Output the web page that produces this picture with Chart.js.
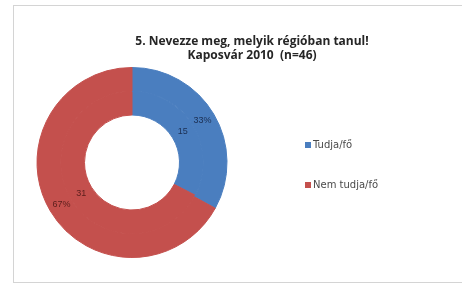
<!DOCTYPE html>
<html>
<head>
<meta charset="utf-8">
<script src="https://cdn.jsdelivr.net/npm/chart.js@4.4.1/dist/chart.umd.min.js"></script>
<style>
  html, body { margin: 0; padding: 0; background: #fff; overflow: hidden; }
  body { width: 462px; height: 284px; position: relative; }
  #frame {
    position: absolute; left: 13px; top: 5px;
    width: 472px; height: 276px;
    border: 1px solid #d4d4d4;
  }
  #frame canvas { display: block; }
</style>
</head>
<body>
<div id="frame"><canvas id="chart" width="472" height="276"></canvas></div>
<script>
const titleLines = ['5. Nevezze meg, melyik régióban tanul!', 'Kaposvár 2010  (n=46)'];
const categories = ['Tudja/fő', 'Nem tudja/fő'];
const percentValues = [33, 67];
const countValues = [15, 31];
const sliceColors = ['#4A7EBF', '#C4504D'];
const labelColors = ['#1c2f52', '#5a1e1c'];

const ctx = document.getElementById('chart').getContext('2d');

// title centred over the whole frame, not only the plot area
const frameTitle = {
  id: 'frameTitle',
  afterDraw(chart) {
    const c = chart.ctx;
    c.save();
    c.font = 'bold 12px "Open Sans", sans-serif';
    c.fillStyle = '#262626';
    c.textAlign = 'center';
    c.textBaseline = 'middle';
    titleLines.forEach((line, i) => c.fillText(line, chart.width / 2 + 2, 36 + i * 14));
    c.restore();
  }
};

// data labels: % on the outer ring, counts on the inner ring
const ringLabels = {
  id: 'ringLabels',
  afterDatasetsDraw(chart) {
    const c = chart.ctx;
    c.save();
    c.font = '9px "Liberation Sans", sans-serif';
    c.textAlign = 'center';
    c.textBaseline = 'middle';
    chart.data.datasets.forEach((ds, di) => {
      chart.getDatasetMeta(di).data.forEach((arc, i) => {
        const { x, y, startAngle, endAngle, innerRadius, outerRadius } =
          arc.getProps(['x', 'y', 'startAngle', 'endAngle', 'innerRadius', 'outerRadius'], true);
        const mid = (startAngle + endAngle) / 2;
        const r = innerRadius + (outerRadius - innerRadius) * (di === 0 ? 0.45 : 0.5);
        const text = di === 0 ? ds.data[i] + '%' : String(ds.data[i]);
        c.fillStyle = labelColors[i];
        c.fillText(text, x + Math.cos(mid) * r, y + Math.sin(mid) * r);
      });
    });
    c.restore();
  }
};

// legend at the right, Excel style
const sideLegend = {
  id: 'sideLegend',
  afterDraw(chart) {
    const c = chart.ctx;
    const x = 291;
    const ys = [139, 179];
    c.save();
    c.font = '10px "DejaVu Sans", sans-serif';
    c.textBaseline = 'middle';
    c.textAlign = 'left';
    chart.data.labels.forEach((label, i) => {
      c.fillStyle = chart.data.datasets[0].backgroundColor[i];
      c.fillRect(x, ys[i] - 3, 6, 6);
      c.fillStyle = '#4a4a4a';
      c.fillText(label, x + 8, ys[i]);
    });
    c.restore();
  }
};

new Chart(ctx, {
  type: 'doughnut',
  data: {
    labels: categories,
    datasets: [
      { data: percentValues, backgroundColor: sliceColors, borderColor: sliceColors, borderWidth: 1 },
      { data: countValues, backgroundColor: sliceColors, borderColor: sliceColors, borderWidth: 1 }
    ]
  },
  options: {
    responsive: false,
    animation: false,
    cutout: '50%',
    layout: { padding: { left: 22, right: 258, top: 61, bottom: 24 } },
    plugins: {
      legend: { display: false },
      tooltip: { enabled: false },
      title: { display: false }
    }
  },
  plugins: [frameTitle, ringLabels, sideLegend]
});
</script>
</body>
</html>
